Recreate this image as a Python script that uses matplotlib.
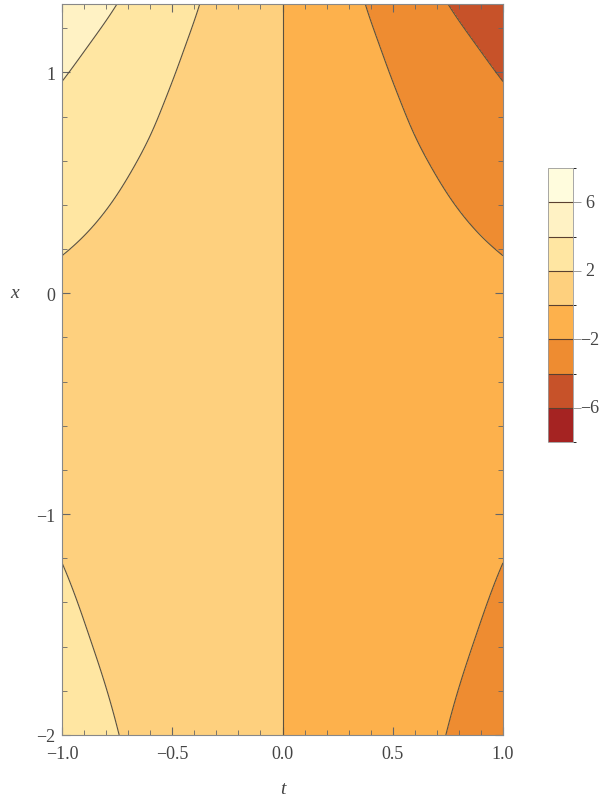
import numpy as np
import matplotlib.pyplot as plt
from matplotlib.colors import ListedColormap, BoundaryNorm

# the values between -1.2 and 0.17 are estimates (no contour crosses there)
x_read = [-2.0, -1.869, -1.566, -1.217, -1.0, -0.8, -0.5, -0.3, -0.1, 0.0,
          0.172, 0.275, 0.35, 0.425, 0.576, 0.606, 0.757, 0.878, 0.961,
          1.134, 1.308]
h_read = [2.70, 2.58, 2.29, 2.0, 1.80, 1.60, 1.38, 1.32, 1.42, 1.58,
          2.0, 2.27, 2.43, 2.62, 2.96, 3.05, 3.45, 3.74, 4.0,
          4.55, 5.32]

levels = [-8, -6, -4, -2, 0, 2, 4, 6, 8]
band_colors = ['#a52322', '#c75229', '#ee8c31', '#fdb14c',
               '#fed07e', '#ffe6a2', '#fff2c4', '#fffcdd']

t_ticks = [-1.0, -0.5, 0.0, 0.5, 1.0]
t_labels = ['\u22121.0', '\u22120.5', '0.0', '0.5', '1.0']
x_ticks = [-2, -1, 0, 1]
x_labels = ['\u22122', '\u22121', '0', '1']
bar_ticks = [-6, -2, 2, 6]
bar_labels = ['\u22126', '\u22122', '2', '6']

plt.rcParams['font.family'] = ['Liberation Serif', 'DejaVu Serif']
txt = '#444444'

# piecewise-linear through the read values, extended at the ends, then smoothed
xs = np.linspace(-2.4, 1.7, 2050)
hs = np.interp(xs, x_read, h_read)
lo = xs < x_read[0]
hi = xs > x_read[-1]
hs[lo] = h_read[0] + (xs[lo] - x_read[0]) * (h_read[1] - h_read[0]) / (x_read[1] - x_read[0])
hs[hi] = h_read[-1] + (xs[hi] - x_read[-1]) * (h_read[-1] - h_read[-2]) / (x_read[-1] - x_read[-2])
k = np.arange(-150, 151) * (xs[1] - xs[0])
kern = np.exp(-0.5 * (k / 0.08) ** 2)
hs = np.convolve(hs, kern / kern.sum(), mode='same')

t = np.linspace(-1, 1, 400)
x = np.linspace(-2, 1.31, 600)
T, X = np.meshgrid(t, x)
F = -T * np.interp(X, xs, hs)

fig = plt.figure(figsize=(6.1, 8.03), dpi=100)
ax = fig.add_axes([62 / 610, 1 - 736 / 803, 441 / 610, 731 / 803])

cmap = ListedColormap(band_colors)
norm = BoundaryNorm(levels, cmap.N)
cs = ax.contourf(T, X, F, levels=levels, cmap=cmap, norm=norm)
ax.contour(T, X, F, levels=levels, colors='#5a5040', linewidths=0.8,
           linestyles='solid')

ax.set_xlim(-1, 1)
ax.set_ylim(-2, 1.31)
ax.set_xticks(t_ticks)
ax.set_xticklabels(t_labels)
ax.set_yticks(x_ticks)
ax.set_yticklabels(x_labels)
ax.set_xticks(np.arange(-1, 1.01, 0.1), minor=True)
ax.set_yticks(np.arange(-2, 1.31, 0.2), minor=True)
ax.tick_params(which='both', direction='in', top=True, right=True,
               colors='#666666', labelcolor=txt, labelsize=13)
ax.tick_params(which='major', length=6, width=0.8, pad=5)
ax.tick_params(which='minor', length=3.5, width=0.6)
ax.tick_params(axis='x', which='major', pad=7)
for s in ax.spines.values():
    s.set_color('#888888')
    s.set_linewidth(0.8)

fig.text(15 / 610, 1 - 294 / 803, 'x', style='italic', fontsize=14,
         color=txt, ha='center', va='center')
fig.text(283 / 610, 1 - 790 / 803, 't', style='italic', fontsize=14,
         color=txt, ha='center', va='center')

cax = fig.add_axes([548 / 610, 1 - 443 / 803, 25 / 610, 274 / 803])
cb = fig.colorbar(cs, cax=cax, ticks=bar_ticks, drawedges=True)
cb.ax.set_yticklabels([])
cb.dividers.set_color('#5a4030')
cb.dividers.set_linewidth(0.8)
cb.outline.set_edgecolor('#999999')
cb.outline.set_linewidth(0.6)
cb.ax.tick_params(direction='out', length=6, width=0.6, colors='#888888')
for v, lab in zip(bar_ticks, bar_labels):
    cax.text(1.68, v, lab, transform=cax.get_yaxis_transform(),
             ha='center', va='center', fontsize=13, color=txt)

fig.savefig('out.png', dpi=100)
